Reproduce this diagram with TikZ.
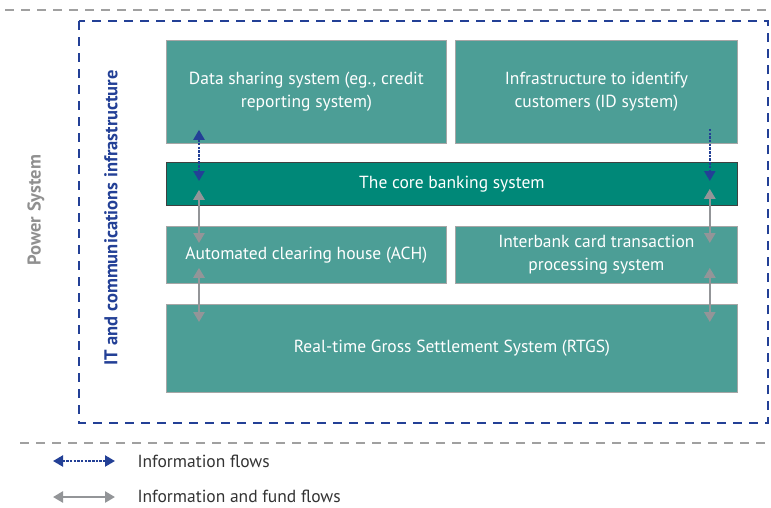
\documentclass[tikz,border=0pt]{standalone}
\usepackage{fontspec}
\setmainfont{PT Sans}
\usetikzlibrary{arrows.meta}

\definecolor{boxteal}{RGB}{76,158,150}
\definecolor{coreteal}{RGB}{0,136,120}
\definecolor{itblue}{RGB}{35,64,150}
\definecolor{flowgray}{RGB}{147,149,152}
\definecolor{framegray}{RGB}{160,160,160}

\tikzset{
  sysbox/.style={draw=black!35,line width=0.8pt,fill=boxteal,text=white,
    font=\fontsize{17.5}{23}\selectfont,align=center,anchor=north west,inner sep=0pt},
  corebox/.style={sysbox,draw=black!75,fill=coreteal},
  infoflow/.style={itblue,line width=2.2pt,dash pattern=on 2.5pt off 1.2pt},
  fundflow/.style={flowgray,line width=2.6pt},
  bothtips/.style={{Triangle[width=11pt,length=10pt]}-{Triangle[width=11pt,length=10pt]}},
  endtip/.style={-{Triangle[width=11pt,length=10pt]}},
  sidelabel/.style={rotate=90,font=\bfseries\fontsize{18.5}{22}\selectfont},
  legendtext/.style={anchor=west,font=\fontsize{17.5}{20}\selectfont,text=black!80}
}

\begin{document}
\begin{tikzpicture}[x=1pt,y=-1pt]
  \useasboundingbox (0,0) rectangle (771,507);

  % Power system: grey dashed lines top and bottom
  \draw[framegray,line width=2.5pt,dash pattern=on 9pt off 7pt] (5,10) -- (771,10);
  \draw[framegray,line width=2.5pt,dash pattern=on 9pt off 7pt] (20,443) -- (771,443);
  \node[sidelabel,text=framegray!90!black] (power) at (36,210) {Power System};

  % IT infrastructure frame
  \draw[itblue,line width=2.5pt,dash pattern=on 9pt off 7pt] (79,21) rectangle (768,423);
  \node[sidelabel,text=itblue] (itinfra) at (111,218) {IT and communications infrastructure};

  % Systems
  \node[sysbox,minimum width=280,minimum height=103] (data) at (166,40) {Data sharing system (eg., credit\\reporting system)};
  \node[sysbox,minimum width=282,minimum height=103] (idsys) at (455,40) {Infrastructure to identify\\customers (ID system)};
  \node[corebox,minimum width=571,minimum height=43] (core) at (166,162) {The core banking system};
  \node[sysbox,minimum width=280,minimum height=57] (ach) at (166,226) {Automated clearing house (ACH)};
  \node[sysbox,minimum width=282,minimum height=57] (card) at (455,226) {Interbank card transaction\\processing system};
  \node[sysbox,minimum width=571,minimum height=88] (rtgs) at (166,304) {Real-time Gross Settlement System (RTGS)};

  % Flows on the left
  \draw[infoflow,bothtips] ([xshift=33pt,yshift=14pt]data.south west) -- ([xshift=33pt,yshift=-19pt]core.north west);
  \draw[fundflow,bothtips] ([xshift=33pt,yshift=16pt]core.south west) -- ([xshift=33pt,yshift=-17pt]ach.north west);
  \draw[fundflow,bothtips] ([xshift=33pt,yshift=16pt]ach.south west) -- ([xshift=33pt,yshift=-18pt]rtgs.north west);

  % Flows on the right
  \draw[infoflow,endtip] ([xshift=-28pt,yshift=15pt]idsys.south east) -- ([xshift=-28pt,yshift=-19pt]core.north east);
  \draw[fundflow,bothtips] ([xshift=-28pt,yshift=17pt]core.south east) -- ([xshift=-28pt,yshift=-17pt]card.north east);
  \draw[fundflow,bothtips] ([xshift=-28pt,yshift=16pt]card.south east) -- ([xshift=-28pt,yshift=-18pt]rtgs.north east);

  % Legend
  \node[legendtext] (infolbl) at (134,461) {Information flows};
  \node[legendtext] (fundlbl) at (134,496) {Information and fund flows};
  \draw[infoflow,bothtips] ([xshift=-81pt]infolbl.west) -- ([xshift=-19pt]infolbl.west);
  \draw[fundflow,bothtips] ([xshift=-81pt,yshift=-1pt]fundlbl.west) -- ([xshift=-19pt,yshift=-1pt]fundlbl.west);
\end{tikzpicture}
\end{document}
